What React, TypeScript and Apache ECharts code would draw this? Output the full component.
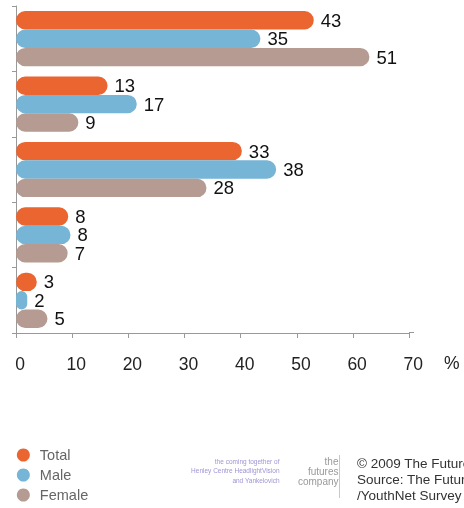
import React, { useEffect, useRef } from "react";
import * as echarts from "echarts";

// Five unlabelled answer groups (top to bottom)
const categories = ["Group 1", "Group 2", "Group 3", "Group 4", "Group 5"];
const seriesNames = ["Total", "Male", "Female"];

// Printed percentages (the labels)
const totalValues = [43, 13, 33, 8, 3];
const maleValues = [35, 17, 38, 8, 2];
const femaleValues = [51, 9, 28, 7, 5];

// Bar lengths as drawn against the 0–70 axis (the original bars are not drawn to their labels)
const totalBarLength = [53.0, 16.3, 40.2, 9.3, 3.7];
const maleBarLength = [43.5, 21.5, 46.3, 9.7, 2.0];
const femaleBarLength = [62.9, 11.1, 33.9, 9.2, 5.6];

const xTicks = { min: 0, max: 70, interval: 10 };
const unitLabel = "%";
const copyrightLines = [
  "© 2009 The Future Company",
  "Source: The Future Company",
  "/YouthNet Survey",
];
const logoLines = ["the coming together of", "Henley Centre HeadlightVision", "and Yankelovich"];
const companyLines = ["the", "futures", "company"];

const colors = ["#EA6530", "#76B5D6", "#B59B91"];
const FONT = "'Liberation Sans', Arial, Helvetica, sans-serif";

export default function App() {
  const ref = useRef<HTMLDivElement>(null);
  useEffect(() => {
    if (!ref.current) return;
    const chart = echarts.init(ref.current, null, { renderer: "svg" });
    const lengths = [totalBarLength, maleBarLength, femaleBarLength];
    const labels = [totalValues, maleValues, femaleValues];
    chart.setOption({
      animation: false,
      textStyle: { fontFamily: FONT },
      grid: { left: 16, right: 54.7, top: 6, bottom: 175, containLabel: false },
      xAxis: {
        type: "value",
        min: xTicks.min,
        max: xTicks.max,
        interval: xTicks.interval,
        axisLine: { show: true, lineStyle: { color: "#999", width: 1 } },
        axisTick: { show: true, length: 5, lineStyle: { color: "#999" } },
        splitLine: { show: false },
        axisLabel: {
          fontSize: 17.5,
          color: "#222",
          margin: 21.5,
          padding: [0, 0, 0, 8],
          fontFamily: FONT,
        },
      },
      yAxis: {
        type: "category",
        data: categories,
        inverse: true,
        axisLine: { show: true, lineStyle: { color: "#999", width: 1 } },
        axisTick: { show: true, length: 4, lineStyle: { color: "#999" } },
        axisLabel: { show: false },
      },
      legend: {
        orient: "vertical",
        left: 16.85,
        top: 447.5,
        padding: 0,
        icon: "circle",
        itemWidth: 23,
        itemHeight: 13,
        itemGap: 5,
        data: seriesNames,
        textStyle: { fontSize: 14.5, lineHeight: 13, color: "#666", fontFamily: FONT },
      },
      series: seriesNames.map((name, si) => ({
        name,
        type: "bar",
        data: lengths[si],
        barWidth: 18.4,
        barGap: "0%",
        itemStyle: { color: colors[si], borderRadius: 9.2 },
        label: {
          show: true,
          position: "right",
          distance: 7,
          fontSize: 18.5,
          color: "#111",
          fontFamily: FONT,
          formatter: (p: any) => String(labels[si][p.dataIndex]),
        },
      })),
      graphic: [
        {
          type: "line",
          shape: { x1: 409, y1: 332.5, x2: 414, y2: 332.5 },
          style: { stroke: "#999", lineWidth: 1 },
        },
        {
          type: "text",
          x: 444,
          y: 363,
          style: {
            text: unitLabel,
            fontSize: 17.5,
            fill: "#222",
            verticalAlign: "middle",
            fontFamily: FONT,
          },
        },
        ...logoLines.map((t, i) => ({
          type: "text",
          x: 279.5,
          y: 461.7 + i * 9.2,
          style: {
            text: t,
            fontSize: 6.5,
            fill: "#9d94d4",
            align: "right",
            verticalAlign: "middle",
            fontFamily: FONT,
          },
        })),
        ...companyLines.map((t, i) => ({
          type: "text",
          x: 338.5,
          y: 461.7 + i * 9.7,
          style: {
            text: t,
            fontSize: 10,
            fill: "#999",
            align: "right",
            verticalAlign: "middle",
            fontFamily: FONT,
          },
        })),
        {
          type: "line",
          shape: { x1: 339.5, y1: 455, x2: 339.5, y2: 498 },
          style: { stroke: "#c8c8c8", lineWidth: 1 },
        },
        ...copyrightLines.map((t, i) => ({
          type: "text",
          x: 357,
          y: 463.3 + i * 16.2,
          style: {
            text: t,
            fontSize: 13.5,
            fill: "#333",
            align: "left",
            verticalAlign: "middle",
            fontFamily: FONT,
          },
        })),
      ],
    });
    return () => chart.dispose();
  }, []);
  return (
    <div
      ref={ref}
      style={{ position: "fixed", left: 0, top: 0, width: 464, height: 508 }}
    />
  );
}
